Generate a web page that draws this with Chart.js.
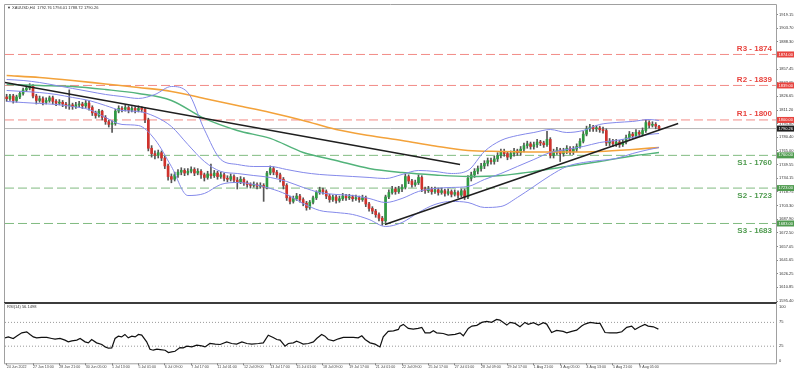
<!DOCTYPE html>
<html>
<head>
<meta charset="utf-8">
<title>XAUUSD H4</title>
<script src="https://cdn.jsdelivr.net/npm/chart.js@4.4.1/dist/chart.umd.min.js"></script>
<style>
  body { margin: 0; background: #fff; }
  #wrap { position: relative; width: 800px; height: 376px; overflow: hidden; background: #fff; }
  #wrap canvas { position: absolute; left: 0; }
</style>
</head>
<body>
<div id="wrap">
  <canvas id="priceChart" width="800" height="305" style="top:0"></canvas>
  <canvas id="rsiChart" width="800" height="73" style="top:303px"></canvas>
</div>
<script>
// candle data (H4)
const xLabels = ['24 Jun 2022', '27 Jun 13:00', '28 Jun 21:00', '30 Jun 05:00', '1 Jul 13:00', '5 Jul 01:00',
  '6 Jul 09:00', '7 Jul 17:00', '11 Jul 01:00', '12 Jul 09:00', '13 Jul 17:00', '15 Jul 01:00', '18 Jul 09:00',
  '19 Jul 17:00', '21 Jul 01:00', '22 Jul 09:00', '25 Jul 17:00', '27 Jul 01:00', '28 Jul 09:00', '29 Jul 17:00',
  '1 Aug 21:00', '3 Aug 05:00', '4 Aug 13:00', '5 Aug 21:00', '9 Aug 05:00'];

const opens = [
  1826,1824,1827,1822,1826,1830,1834,1836,1838,1827,
  1822,1824,1820,1822,1825,1821,1819,1820,1818,1816,
  1817,1815,1817,1818,1816,1819,1814,1808,1805,1810,
  1803,1798,1795,1796,1810,1813,1812,1814,1811,1813,
  1811,1813,1812,1800,1768,1762,1760,1763,1757,1748,
  1736,1733,1738,1741,1743,1740,1742,1744,1740,1742,
  1738,1735,1739,1737,1740,1736,1738,1734,1733,1736,
  1732,1730,1733,1729,1727,1726,1727,1725,1726,1724,
  1740,1745,1741,1738,1733,1726,1712,1708,1711,1714,
  1710,1706,1701,1707,1712,1718,1721,1719,1714,1710,
  1713,1709,1711,1714,1712,1713,1711,1712,1710,1712,
  1705,1700,1697,1693,1689,1686,1713,1718,1722,1719,
  1722,1724,1736,1731,1727,1729,1735,1722,1720,1722,
  1719,1721,1718,1720,1717,1719,1716,1718,1715,1720,
  1713,1734,1738,1742,1745,1748,1751,1754,1753,1756,
  1760,1764,1762,1758,1762,1765,1763,1767,1771,1773,
  1770,1772,1775,1774,1772,1778,1760,1764,1766,1762,
  1765,1768,1764,1767,1770,1776,1784,1790,1792,1790,
  1791,1789,1788,1774,1776,1773,1775,1772,1775,1780,
  1784,1782,1786,1784,1788,1797,1794,1795,1792.76];

const highs = [
  1829,1829,1829,1828,1832,1836,1839,1841,1840,1829,
  1827,1826,1825,1827,1827,1823,1823,1822,1820,1834,
  1819,1820,1821,1820,1822,1821,1816,1810,1812,1811,
  1805,1800,1799,1812,1816,1815,1817,1816,1815,1815,
  1816,1815,1814,1802,1771,1765,1766,1765,1759,1750,
  1739,1741,1744,1746,1745,1745,1747,1746,1745,1744,
  1740,1742,1750,1743,1742,1741,1740,1737,1739,1738,
  1735,1736,1735,1731,1729,1730,1729,1729,1728,1742,
  1748,1747,1743,1740,1735,1728,1714,1714,1717,1716,
  1712,1708,1709,1714,1720,1724,1723,1721,1716,1715,
  1715,1714,1717,1716,1716,1715,1715,1714,1715,1714,
  1707,1702,1699,1695,1691,1715,1721,1725,1724,1725,
  1727,1739,1738,1733,1732,1738,1737,1724,1725,1724,
  1724,1723,1723,1722,1722,1721,1721,1720,1722,1722,
  1737,1741,1745,1748,1751,1754,1757,1757,1759,1763,
  1767,1767,1764,1765,1768,1767,1770,1774,1776,1775,
  1775,1778,1777,1776,1787,1780,1767,1769,1768,1768,
  1771,1770,1770,1773,1779,1787,1793,1795,1794,1794,
  1793,1792,1790,1779,1778,1778,1777,1778,1783,1787,
  1786,1789,1788,1791,1800,1799,1798,1797,1794.01];

const lows = [
  1821,1822,1819,1820,1824,1828,1832,1834,1825,1818,
  1820,1817,1818,1820,1818,1816,1817,1815,1813,1812,
  1812,1813,1815,1813,1814,1811,1805,1802,1803,1800,
  1795,1792,1786,1794,1808,1809,1810,1808,1809,1808,
  1809,1809,1797,1765,1758,1756,1757,1754,1745,1732,
  1729,1731,1735,1738,1737,1738,1740,1737,1738,1734,
  1731,1733,1734,1735,1733,1734,1731,1730,1731,1729,
  1722,1728,1726,1724,1723,1724,1722,1723,1708,1722,
  1738,1738,1735,1730,1722,1709,1705,1706,1709,1707,
  1703,1698,1699,1705,1710,1716,1716,1711,1707,1708,
  1706,1707,1709,1709,1710,1708,1709,1707,1708,1702,
  1697,1694,1690,1686,1681,1684,1711,1716,1716,1717,
  1719,1722,1728,1724,1725,1727,1719,1717,1718,1716,
  1717,1715,1716,1714,1715,1713,1714,1712,1713,1710,
  1711,1731,1735,1739,1742,1745,1748,1750,1750,1753,
  1757,1759,1755,1756,1759,1760,1760,1764,1768,1767,
  1767,1769,1771,1769,1770,1757,1757,1761,1753,1759,
  1762,1761,1761,1764,1768,1774,1782,1787,1787,1787,
  1786,1785,1771,1771,1770,1770,1769,1770,1773,1778,
  1779,1780,1781,1782,1786,1791,1792,1790,1788.72];

const closes = [
  1824,1827,1822,1826,1830,1834,1836,1838,1827,1822,
  1824,1820,1822,1825,1821,1819,1820,1818,1816,1817,
  1815,1817,1818,1816,1819,1814,1808,1805,1810,1803,
  1798,1795,1796,1810,1813,1812,1814,1811,1813,1811,
  1813,1812,1800,1768,1762,1760,1763,1757,1748,1736,
  1733,1738,1741,1743,1740,1742,1744,1740,1742,1738,
  1735,1739,1737,1740,1736,1738,1734,1733,1736,1732,
  1730,1733,1729,1727,1726,1727,1725,1726,1724,1740,
  1745,1741,1738,1733,1726,1712,1708,1711,1714,1710,
  1706,1701,1707,1712,1718,1721,1719,1714,1710,1713,
  1709,1711,1714,1712,1713,1711,1712,1710,1712,1705,
  1700,1697,1693,1689,1686,1713,1718,1722,1719,1722,
  1724,1736,1731,1727,1729,1735,1722,1720,1722,1719,
  1721,1718,1720,1717,1719,1716,1718,1715,1720,1713,
  1734,1738,1742,1745,1748,1751,1754,1753,1756,1760,
  1764,1762,1758,1762,1765,1763,1767,1771,1773,1770,
  1772,1775,1774,1772,1778,1760,1764,1766,1762,1765,
  1768,1764,1767,1770,1776,1784,1790,1792,1790,1791,
  1789,1788,1774,1776,1773,1775,1772,1775,1780,1784,
  1782,1786,1784,1788,1797,1794,1795,1793,1790.26];

// bollinger bands, sampled every 5 candles
const bbX = [0,5,10,15,20,25,30,35,40,45,50,55,60,65,70,75,80,85,90,95,100,105,110,115,120,125,130,135,140,145,150,155,160,165,170,175,180,185,190,195,198];
const bbUpper = [1845.7,1844.6,1842.3,1839.0,1835.6,1832.2,1828.8,1826.5,1824.3,1828.8,1837.8,1831.0,1789.2,1755.3,1749.7,1747.4,1747.4,1744.0,1740.6,1738.4,1737.2,1736.1,1735.0,1733.8,1738.4,1742.9,1741.8,1739.5,1742.9,1764.4,1776.8,1782.4,1785.8,1789.2,1785.8,1788.1,1794.9,1797.1,1798.3,1800.5,1799.4];
const bbMid = [1833.3,1832.2,1831.0,1828.8,1825.4,1822.0,1816.3,1810.7,1809.6,1803.9,1792.6,1772.3,1753.1,1741.8,1739.5,1737.2,1735.0,1730.5,1723.7,1718.0,1715.8,1714.6,1711.3,1706.7,1711.3,1719.2,1722.6,1723.7,1724.8,1732.7,1739.5,1747.4,1755.3,1763.2,1766.6,1770.0,1774.5,1776.8,1780.2,1783.6,1784.7];
const bbLower = [1820.9,1819.7,1818.6,1817.5,1815.2,1811.8,1802.8,1794.9,1793.7,1777.9,1747.4,1714.6,1716.9,1727.1,1729.3,1727.1,1722.6,1715.8,1705.6,1697.7,1695.4,1693.2,1687.5,1679.6,1684.1,1695.4,1704.5,1707.9,1706.7,1701.1,1702.2,1712.4,1724.8,1737.2,1747.4,1751.9,1754.2,1756.5,1762.1,1766.6,1768.9];

// moving averages, sampled every 10 candles
const maX = [0,10,20,30,40,50,60,70,80,90,100,110,120,130,140,150,160,170,180,190,198];
const maSlow = [1850.2,1848.0,1844.6,1840.6,1836.7,1832.2,1824.3,1816.3,1808.4,1799.4,1789.2,1782.4,1776.8,1770.6,1765.5,1764.4,1763.8,1763.8,1764.4,1766.6,1768.9];
const maFast = [1840.1,1838.9,1837.8,1834.4,1829.9,1822.0,1801.7,1788.1,1779.1,1763.2,1754.2,1745.2,1740.6,1737.8,1736.1,1737.2,1741.8,1747.4,1753.1,1759.3,1763.2];

// drawn trendlines [candle, price]
const trendDown = [[-0.5, 1842.3], [137.6, 1749.7]];
const trendUp = [[114.8, 1681.9], [203.8, 1796.0]];

const levelNames = ['R3', 'R2', 'R1', 'S1', 'S2', 'S3'];
const levelValues = [1874, 1839, 1800, 1760, 1723, 1683];
const lastPrice = 1790.26;

const yTicks = [1595.40,1610.85,1626.25,1641.65,1657.05,1672.50,1687.90,1703.30,1718.75,1734.15,1749.55,1765.00,1780.40,1795.80,1811.20,1826.65,1842.05,1857.45,1872.90,1888.30,1903.70,1919.15];

// RSI(14) [candle, value]
const rsiPts = [[-0.5,42.5],[0.5,44.6],[2,41.2],[3,46.1],[4.6,53.1],[6.1,55.2],[7.1,49.7],[8.1,44.6],[9.1,42.5],[10.6,43.4],[12.2,43.4],[13.7,41.2],[14.7,39.8],[16.2,41.2],[17.7,37.7],[18.7,34.1],[19.8,36.2],[21.3,37.7],[22.3,41.2],[23.8,34.1],[24.8,32],[25.8,39.1],[27.3,32],[28.9,28.6],[29.9,23.5],[30.9,20.8],[31.9,21.4],[32.9,41.2],[33.9,46.1],[34.9,44.6],[35.9,49.7],[36.9,42.5],[38,46.1],[39,44.6],[40,49.7],[41,48.2],[42.5,34.1],[43.5,18.7],[44.5,16.6],[45.6,18.7],[46.6,18],[48.1,16.6],[49.1,11.7],[50.1,13],[51.1,14.4],[52.6,22.2],[53.6,21.4],[54.7,25],[56.2,23.5],[57.7,27.1],[59.2,25.7],[60.2,23.5],[61.7,30.7],[63.3,29.3],[64.8,28.6],[66.8,34.1],[68.3,30.7],[69.8,29.3],[71.4,34.1],[72.9,30.7],[74.4,29.3],[76.4,30.7],[77.9,32],[79.4,48.2],[80.9,43.4],[82,39.1],[83,37.7],[84.5,25],[85.5,30.7],[87,32],[88,35.6],[89,32.7],[90,29.3],[91.6,30.7],[93.1,34.1],[94.1,41.2],[95.6,49.7],[96.6,46.1],[97.6,39.1],[99.2,36.2],[100.7,40.5],[102.2,43.4],[103.7,43.4],[105.2,43.4],[106.7,42.5],[107.8,46.8],[108.8,39.1],[110.3,32],[111.8,29.3],[113.3,23.5],[114.3,44.6],[115.8,56],[117.4,57.3],[118.9,60.2],
  [119.4,67.2],[120.4,70.8],[121.9,62.3],[123.4,60.9],[124.9,62.3],[126,64.5],[127,53.1],[128.5,53.1],[129.5,57.3],[130.5,53.1],[132.5,51.7],[134,48.2],[136.1,49.7],[137.6,53.1],[138.6,46.8],[140.1,62.3],[141.2,67.2],[142.7,68.7],[144.2,75],[145.7,77.1],[147.2,75],[148.7,81.3],[149.7,79.9],[151.8,69.3],[152.8,75],[154.3,72.9],[155.8,65.7],[157.3,75],[158.3,70.8],[159.9,74.2],[161.4,69.3],[162.9,74.2],[163.9,71.4],[165.4,53.8],[166.9,58.1],[167.9,57.3],[168.9,56],[170,53.1],[171.5,56],[173,58.8],[174.5,67.2],[175.5,71.4],[177.1,75],[179.1,72.9],[180.1,72.9],[181.6,53.8],[183.1,53.1],[185.2,53.1],[186.7,55.2],[188.2,64.5],[189.7,67.2],[190.7,60.2],[192.2,65.7],[193.7,70.8],[194.7,67.2],[196.3,65.7],[197.8,60.9]];
const rsiLevels = [75, 25];

const X_MIN = -0.5, X_MAX = 233.5;
const FONT = '"Liberation Sans", Arial, sans-serif';
const UP = '#2e9a42', DOWN = '#d0322c', BAND = '#8489ea';

const pts = (xs, ys) => xs.map((x, i) => ({x, y: ys[i]}));
const pairPts = arr => arr.map(([x, y]) => ({x, y}));
const hLine = v => [{x: X_MIN, y: v}, {x: X_MAX, y: v}];

const curve = (data, color, width) => ({
  type: 'line', data, borderColor: color, borderWidth: width, pointRadius: 0,
  cubicInterpolationMode: 'monotone', order: 5
});

const priceOverlay = {
  id: 'priceOverlay',
  afterDraw(chart) {
    const {ctx, chartArea: a, scales: {y}} = chart;
    ctx.save();
    // panel frame
    ctx.strokeStyle = '#a0a0a0';
    ctx.lineWidth = 1;
    ctx.beginPath();
    ctx.moveTo(a.left - 0.5, a.bottom + 1);
    ctx.lineTo(a.left - 0.5, a.top - 0.5);
    ctx.lineTo(a.right + 0.5, a.top - 0.5);
    ctx.lineTo(a.right + 0.5, a.bottom + 1);
    ctx.stroke();
    ctx.fillStyle = '#3c3c3c';
    ctx.fillRect(a.left - 1, a.bottom + 1, a.right - a.left + 2, 2);

    ctx.fillStyle = '#333';
    ctx.font = `4px ${FONT}`;
    ctx.textAlign = 'left';
    ctx.textBaseline = 'middle';
    ctx.fillText('\u25BC XAUUSD,H4  1792.76 1794.01 1788.72 1790.26', a.left + 2, a.top + 3);

    levelValues.forEach((v, i) => {
      const py = y.getPixelForValue(v);
      const res = levelNames[i][0] === 'R';
      const col = res ? '#e8443f' : '#4f9b4f';
      ctx.fillStyle = col;
      ctx.font = `bold 8px ${FONT}`;
      ctx.textAlign = 'right';
      ctx.textBaseline = 'alphabetic';
      ctx.fillText(`${levelNames[i]} - ${v}`, a.right - 4, res ? py - 3.8 : py + 9.5);
      ctx.fillRect(a.right + 1, py - 3, 17, 6);
      ctx.fillStyle = '#fff';
      ctx.font = `4px ${FONT}`;
      ctx.textAlign = 'left';
      ctx.textBaseline = 'middle';
      ctx.fillText(v.toFixed(2), a.right + 2.5, py);
    });

    const lp = y.getPixelForValue(lastPrice);
    ctx.fillStyle = '#1e1e1e';
    ctx.fillRect(a.right + 1, lp - 3, 17, 6);
    ctx.fillStyle = '#fff';
    ctx.fillText(lastPrice.toFixed(2), a.right + 2.5, lp);
    ctx.restore();
  }
};

new Chart(document.getElementById('priceChart'), {
  type: 'line',
  data: {
    datasets: [
      ...levelValues.map((v, i) => ({
        type: 'line', data: hLine(v), borderColor: i < 3 ? '#f28b86' : '#80bb80',
        borderWidth: 1, borderDash: [9, 4], pointRadius: 0, order: 20
      })),
      { type: 'line', data: hLine(lastPrice), borderColor: '#b4b4b4', borderWidth: 1, pointRadius: 0, order: 19 },
      {
        type: 'bar', data: closes.map((c, i) => ({x: i, y: [lows[i], highs[i]]})),
        backgroundColor: '#555', barThickness: 1, grouped: false, order: 12
      },
      {
        type: 'bar', data: closes.map((c, i) => ({x: i, y: [opens[i], c]})),
        backgroundColor: closes.map((c, i) => c >= opens[i] ? UP : DOWN),
        barThickness: 2, minBarLength: 1, grouped: false, order: 11
      },
      curve(pts(bbX, bbUpper), BAND, 1),
      curve(pts(bbX, bbMid), BAND, 1),
      curve(pts(bbX, bbLower), BAND, 1),
      curve(pts(maX, maSlow), '#f3a23a', 1.6),
      curve(pts(maX, maFast), '#52b37a', 1.4),
      { type: 'line', data: pairPts(trendDown), borderColor: '#1f1f1f', borderWidth: 1.5, pointRadius: 0, order: 2 },
      { type: 'line', data: pairPts(trendUp), borderColor: '#1f1f1f', borderWidth: 1.5, pointRadius: 0, order: 2 }
    ]
  },
  options: {
    responsive: false,
    animation: false,
    devicePixelRatio: 1,
    events: [],
    layout: { padding: { left: 5, top: 5, right: 0, bottom: 4 } },
    plugins: { legend: { display: false }, tooltip: { enabled: false } },
    scales: {
      x: { type: 'linear', min: X_MIN, max: X_MAX, offset: false, display: false },
      y: {
        type: 'linear', position: 'right', min: 1595.4, max: 1929.9,
        afterBuildTicks: s => { s.ticks = yTicks.map(v => ({value: v})); },
        afterFit: s => { s.width = 24; },
        ticks: { autoSkip: false, font: { family: FONT, size: 4 }, color: '#333', padding: 1, callback: v => v.toFixed(2) },
        grid: { drawOnChartArea: false, tickLength: 2, color: '#888' },
        border: { display: false }
      }
    }
  },
  plugins: [priceOverlay]
});

const rsiOverlay = {
  id: 'rsiOverlay',
  afterDraw(chart) {
    const {ctx, chartArea: a, scales: {y}} = chart;
    ctx.save();
    ctx.strokeStyle = '#a0a0a0';
    ctx.lineWidth = 1;
    ctx.beginPath();
    ctx.moveTo(a.left - 0.5, a.top);
    ctx.lineTo(a.left - 0.5, a.bottom + 0.5);
    ctx.lineTo(a.right + 0.5, a.bottom + 0.5);
    ctx.lineTo(a.right + 0.5, a.top);
    ctx.stroke();
    ctx.fillStyle = '#333';
    ctx.font = `4px ${FONT}`;
    ctx.textAlign = 'left';
    ctx.textBaseline = 'middle';
    ctx.fillText('RSI(14) 56.1498', a.left + 2, a.top + 4);
    [['100', a.top + 3.5], ['75', y.getPixelForValue(75)], ['25', y.getPixelForValue(25)], ['0', a.bottom - 2.3]]
      .forEach(([t, py]) => ctx.fillText(t, a.right + 3, py));
    ctx.restore();
  }
};

new Chart(document.getElementById('rsiChart'), {
  type: 'line',
  data: {
    datasets: [
      { data: pairPts(rsiPts), borderColor: '#111', borderWidth: 1.2, pointRadius: 0, tension: 0, order: 1 },
      ...rsiLevels.map(v => ({
        data: hLine(v), borderColor: '#999', borderWidth: 1, borderDash: [1, 2], pointRadius: 0, order: 2
      }))
    ]
  },
  options: {
    responsive: false,
    animation: false,
    devicePixelRatio: 1,
    events: [],
    layout: { padding: { left: 5, top: 0, right: 24, bottom: 0 } },
    plugins: { legend: { display: false }, tooltip: { enabled: false } },
    scales: {
      x: {
        type: 'linear', min: X_MIN, max: X_MAX, offset: false,
        afterBuildTicks: s => { s.ticks = xLabels.map((_, k) => ({value: k * 8})); },
        afterFit: s => { s.height = 12.7; },
        ticks: {
          autoSkip: false, minRotation: 0, maxRotation: 0, align: 'start', padding: 0,
          font: { family: FONT, size: 3.6 }, color: '#444', callback: (v, i) => xLabels[i]
        },
        grid: { drawOnChartArea: false, tickLength: 2, color: '#777' },
        border: { display: false }
      },
      y: { min: -10.9, max: 115.7, display: false }
    }
  },
  plugins: [rsiOverlay]
});
</script>
</body>
</html>
